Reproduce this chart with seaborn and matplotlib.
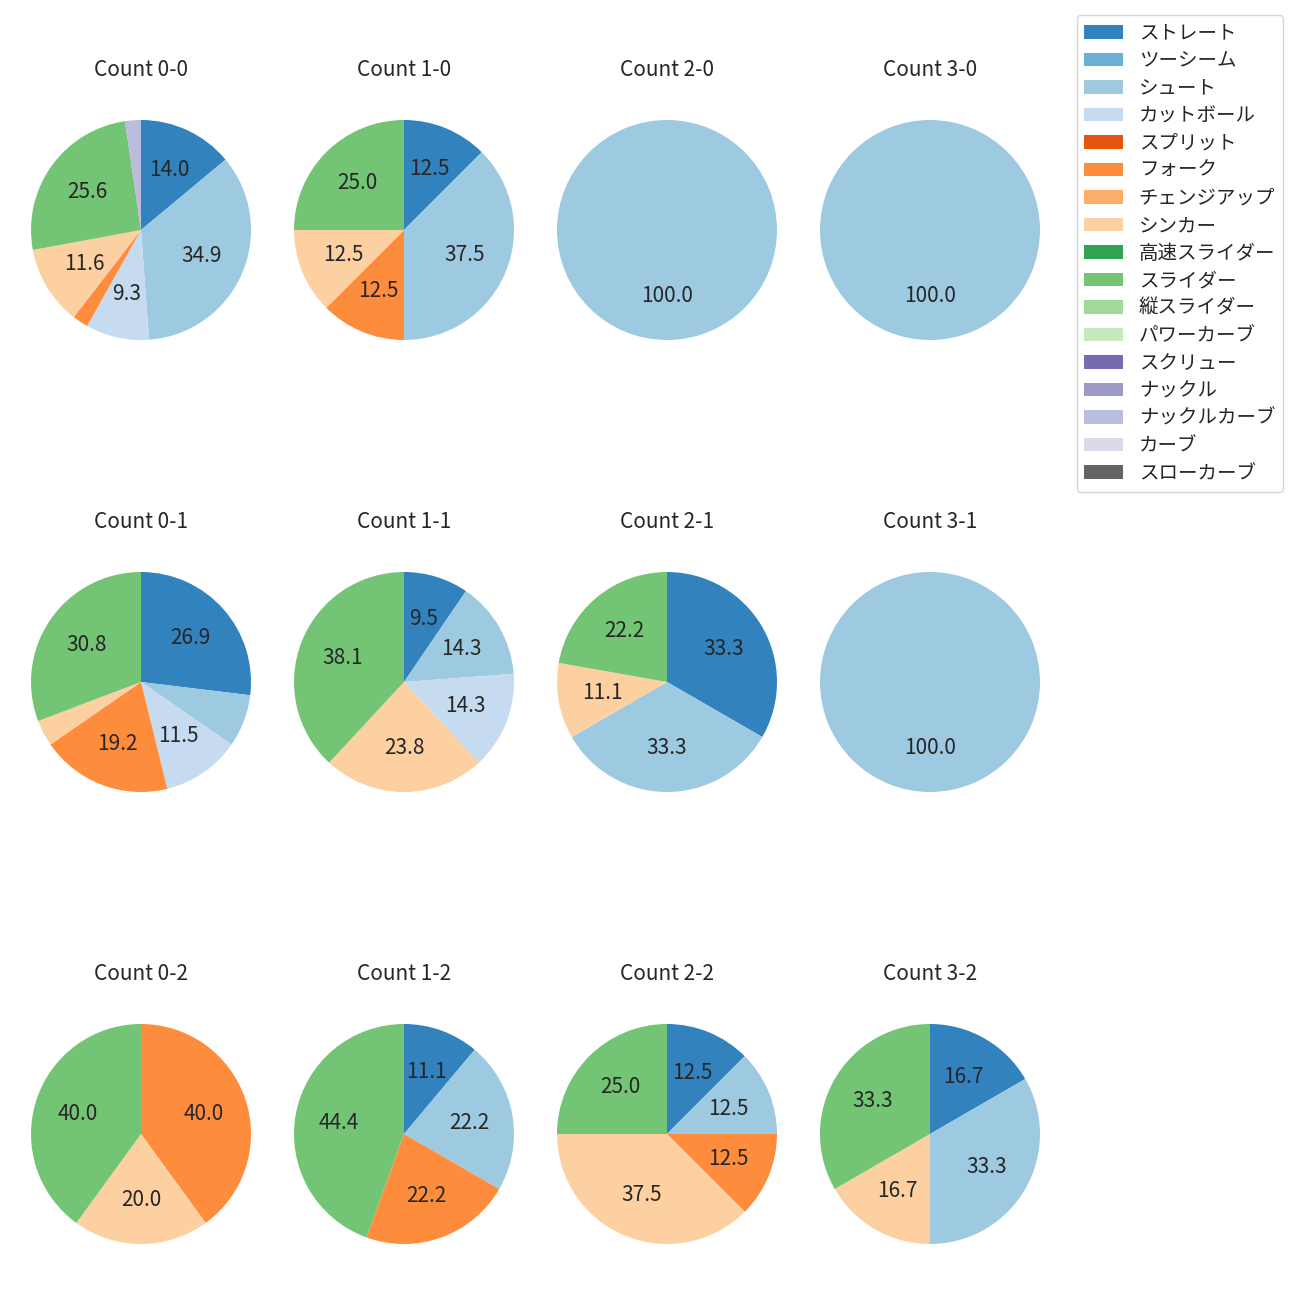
import matplotlib
matplotlib.use('Agg')
import matplotlib.pyplot as plt
from matplotlib.patches import Patch
import seaborn as sns

# ---------------------------------------------
# data: pitch counts per ball-strike count
# ---------------------------------------------
pitch_types = ['ストレート', 'ツーシーム', 'シュート', 'カットボール', 'スプリット',
               'フォーク', 'チェンジアップ', 'シンカー', '高速スライダー', 'スライダー',
               '縦スライダー', 'パワーカーブ', 'スクリュー', 'ナックル', 'ナックルカーブ',
               'カーブ', 'スローカーブ']

#       St Tw Sh Cu Sp Fo Ch Si HS Sl VS PC Sc Kn KC Cv SC
c00 = [6, 0, 15, 4, 0, 1, 0, 5, 0, 11, 0, 0, 0, 0, 1, 0, 0]
c10 = [1, 0, 3, 0, 0, 1, 0, 1, 0, 2, 0, 0, 0, 0, 0, 0, 0]
c20 = [0, 0, 1, 0, 0, 0, 0, 0, 0, 0, 0, 0, 0, 0, 0, 0, 0]
c30 = [0, 0, 1, 0, 0, 0, 0, 0, 0, 0, 0, 0, 0, 0, 0, 0, 0]
c01 = [7, 0, 2, 3, 0, 5, 0, 1, 0, 8, 0, 0, 0, 0, 0, 0, 0]
c11 = [2, 0, 3, 3, 0, 0, 0, 5, 0, 8, 0, 0, 0, 0, 0, 0, 0]
c21 = [3, 0, 3, 0, 0, 0, 0, 1, 0, 2, 0, 0, 0, 0, 0, 0, 0]
c31 = [0, 0, 1, 0, 0, 0, 0, 0, 0, 0, 0, 0, 0, 0, 0, 0, 0]
c02 = [0, 0, 0, 0, 0, 2, 0, 1, 0, 2, 0, 0, 0, 0, 0, 0, 0]
c12 = [1, 0, 2, 0, 0, 2, 0, 0, 0, 4, 0, 0, 0, 0, 0, 0, 0]
c22 = [1, 0, 1, 0, 0, 1, 0, 3, 0, 2, 0, 0, 0, 0, 0, 0, 0]
c32 = [1, 0, 2, 0, 0, 0, 0, 1, 0, 2, 0, 0, 0, 0, 0, 0, 0]

count_labels = ['0-0', '1-0', '2-0', '3-0',
                '0-1', '1-1', '2-1', '3-1',
                '0-2', '1-2', '2-2', '3-2']
count_data = [c00, c10, c20, c30, c01, c11, c21, c31, c02, c12, c22, c32]

# ---------------------------------------------
# style
# ---------------------------------------------
sns.set_style('white')
plt.rcParams['font.family'] = ['Noto Sans CJK JP', 'DejaVu Sans']
plt.rcParams['font.size'] = 14

colors = sns.color_palette('tab20c', len(pitch_types))

W = H = 1300
BOX = 275
col_cx = [141, 404, 667, 930]
row_cy = [230, 682, 1134]

fig, axes = plt.subplots(3, 4, figsize=(13, 13), dpi=100)

for i, (ax, lab, vals) in enumerate(zip(axes.flatten(), count_labels, count_data)):
    r, c = divmod(i, 4)
    cx, cy = col_cx[c], row_cy[r]
    ax.set_position([(cx - BOX / 2) / W, 1 - (cy + BOX / 2) / H, BOX / W, BOX / H])

    sizes = [v for v in vals if v > 0]
    cols = [colors[k] for k, v in enumerate(vals) if v > 0]
    ax.pie(sizes, colors=cols, startangle=90, counterclock=False,
           autopct=lambda p: f'{p:.1f}' if p >= 8 else '',
           wedgeprops={'linewidth': 0},
           textprops={'fontsize': 15})
    ax.set_title(f'Count {lab}', fontsize=15, pad=12)

handles = [Patch(facecolor=colors[k], edgecolor='none', label=name)
           for k, name in enumerate(pitch_types)]
fig.legend(handles=handles, loc='upper right', fontsize=14, borderaxespad=0,
           labelspacing=0.335,
           bbox_to_anchor=(1283 / W, 1 - 15 / H), bbox_transform=fig.transFigure)

plt.savefig('out.png', dpi=100)
plt.close()
